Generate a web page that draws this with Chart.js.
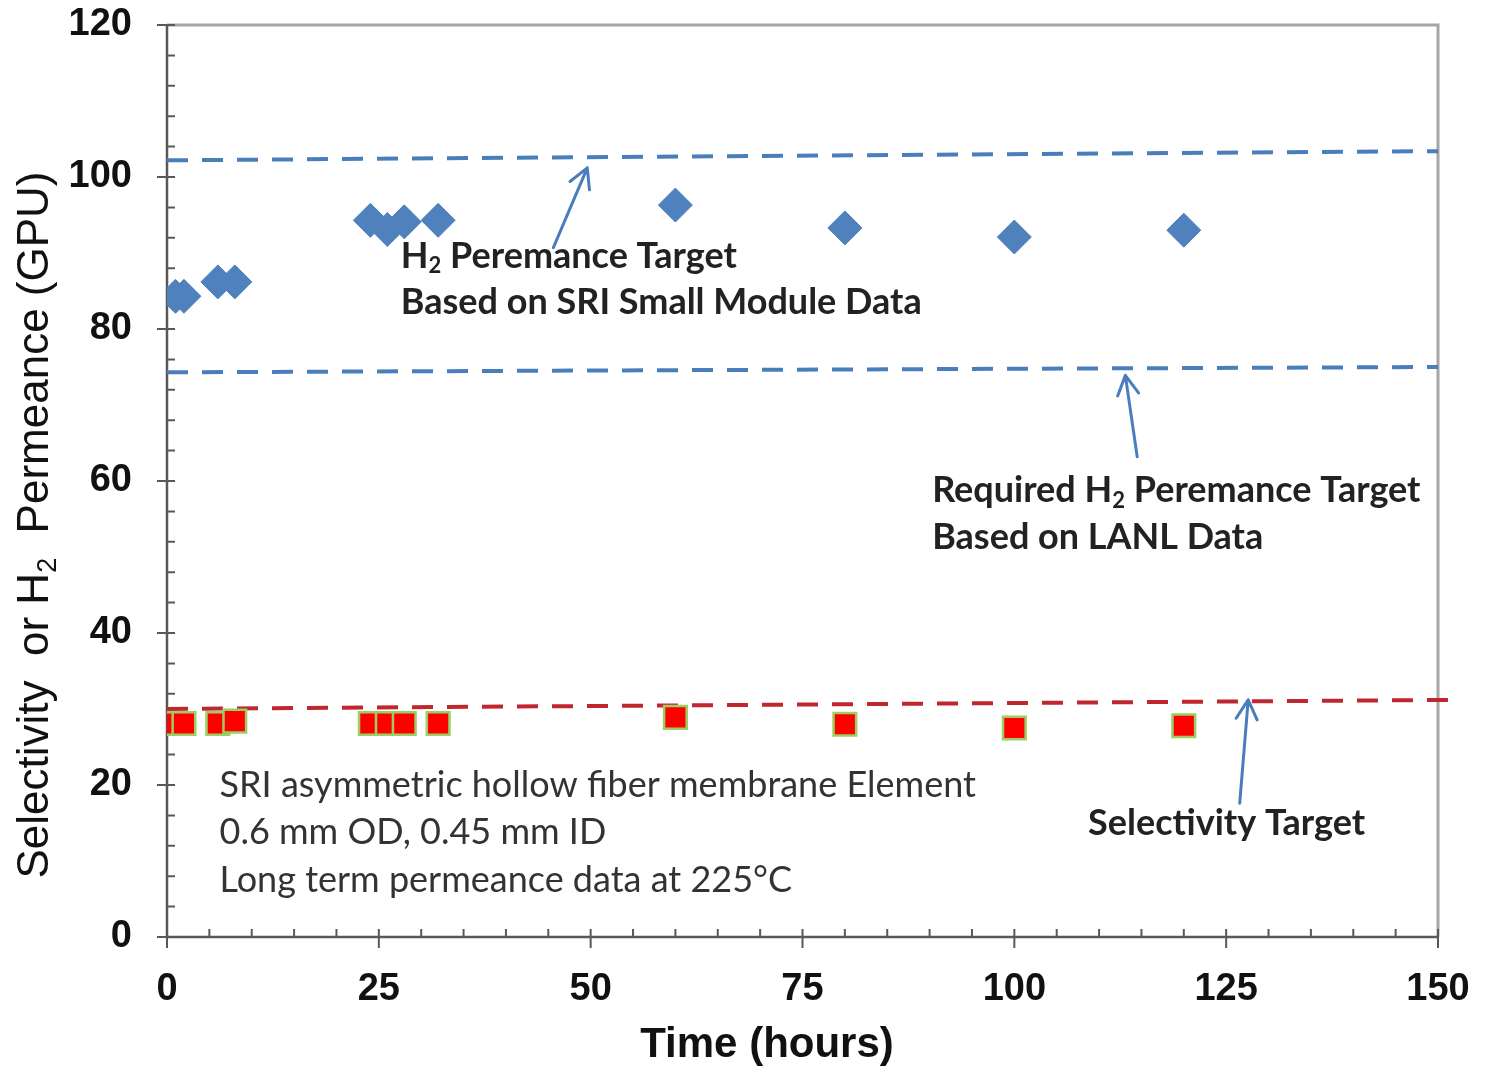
<!DOCTYPE html>
<html>
<head>
<meta charset="utf-8">
<script src="https://cdn.jsdelivr.net/npm/chart.js@4.4.1/dist/chart.umd.min.js"></script>
<style>
  body { margin: 0; background: #fff; }
  #wrap { width: 1486px; height: 1069px; }
</style>
</head>
<body>
<div id="wrap"><canvas id="chart" width="1486" height="1069"></canvas></div>
<script>
// Measured data
const timeH2 = [1, 2, 6, 8, 24, 26, 28, 32, 60, 80, 100, 120];
const permeance = [84.3, 84.3, 86.2, 86.2, 94.3, 93.1, 94.1, 94.3, 96.3, 93.3, 92.1, 93.0];
const timeSel = [0.7, 2, 6, 8, 24, 26, 28, 32, 60, 80, 100, 120];
const selectivity = [28.1, 28.1, 28.1, 28.4, 28.1, 28.1, 28.1, 28.1, 28.9, 28.0, 27.5, 27.8];

// target lines (start / end)
const targetX = [0, 150];
const sriTarget = [102.2, 103.4];
const lanlTarget = [74.3, 75.0];
const selTargetX = [0, 152];
const selTarget = [30.0, 31.2];

const xTicks = [0, 25, 50, 75, 100, 125, 150];
const yTicks = [0, 20, 40, 60, 80, 100, 120];

const pts = (xs, ys) => xs.map((x, i) => ({ x, y: ys[i] }));

// annotation texts & arrows (data coords)
const notes = [
  { x: 27.6, y: 89.6, parts: [['H', 0], ['2', 1], [' Peremance Target', 0]], bold: true },
  { x: 27.6, y: 83.5, parts: [['Based on SRI Small Module Data', 0]], bold: true },
  { x: 90.3, y: 58.7, parts: [['Required H', 0], ['2', 1], [' Peremance Target', 0]], bold: true },
  { x: 90.3, y: 52.6, parts: [['Based on LANL Data', 0]], bold: true },
  { x: 108.7, y: 15.0, parts: [['Selectivity Target', 0]], bold: true },
  { x: 6.2, y: 19.9, parts: [['SRI asymmetric hollow fiber membrane Element', 0]], bold: false },
  { x: 6.2, y: 13.7, parts: [['0.6 mm OD, 0.45 mm ID', 0]], bold: false },
  { x: 6.2, y: 7.5, parts: [['Long term permeance data at 225°C', 0]], bold: false }
];
const arrows = [
  [45.6, 90.7, 49.6, 101.2],
  [114.5, 63.2, 113.1, 73.9],
  [126.6, 17.6, 127.6, 31.2]
];

function drawRich(ctx, x, y, parts, size, weight) {
  let cx = x;
  parts.forEach(([txt, sub]) => {
    ctx.font = `${weight} ${sub ? Math.round(size * 0.62) : size}px ${ctx.fam}`;
    ctx.fillText(txt, cx, sub ? y + size * 0.28 : y);
    cx += ctx.measureText(txt).width;
  });
  return cx - x;
}

const framePlugin = {
  id: 'frame',
  beforeDatasetsDraw(chart) {
    const { ctx, chartArea: a, scales: { x, y } } = chart;
    ctx.save();
    // top/right frame
    ctx.strokeStyle = '#a6a6a6';
    ctx.lineWidth = 3;
    ctx.beginPath();
    ctx.moveTo(a.left, a.top); ctx.lineTo(a.right, a.top); ctx.lineTo(a.right, a.bottom);
    ctx.stroke();
    // axes
    ctx.strokeStyle = '#595959';
    ctx.lineWidth = 2.5;
    ctx.beginPath();
    ctx.moveTo(a.left, a.top); ctx.lineTo(a.left, a.bottom); ctx.lineTo(a.right, a.bottom);
    ctx.stroke();
    ctx.lineWidth = 2;
    ctx.beginPath();
    for (let v = 0; v <= 120; v += 4) {
      const py = y.getPixelForValue(v);
      if (v % 20 === 0) { ctx.moveTo(a.left - 10, py); ctx.lineTo(a.left + 8, py); }
      else { ctx.moveTo(a.left, py); ctx.lineTo(a.left + 8, py); }
    }
    for (let v = 0; v <= 150; v += 5) {
      const px = x.getPixelForValue(v);
      if (v % 25 === 0) { ctx.moveTo(px, a.bottom - 8); ctx.lineTo(px, a.bottom + 11); }
      else { ctx.moveTo(px, a.bottom - 8); ctx.lineTo(px, a.bottom); }
    }
    ctx.stroke();
    ctx.restore();
  },
  afterDraw(chart) {
    const { ctx, scales: { x, y } } = chart;
    ctx.save();
    // arrows
    ctx.strokeStyle = '#4a7ebb';
    ctx.lineWidth = 3;
    ctx.lineCap = 'round';
    arrows.forEach(([x0, y0, x1, y1]) => {
      const px0 = x.getPixelForValue(x0), py0 = y.getPixelForValue(y0);
      const px1 = x.getPixelForValue(x1), py1 = y.getPixelForValue(y1);
      const ang = Math.atan2(py1 - py0, px1 - px0);
      ctx.beginPath();
      ctx.moveTo(px0, py0); ctx.lineTo(px1, py1);
      [0.5, -0.5].forEach(d => {
        ctx.moveTo(px1, py1);
        ctx.lineTo(px1 - 22 * Math.cos(ang + d), py1 - 22 * Math.sin(ang + d));
      });
      ctx.stroke();
    });
    // notes
    ctx.fam = 'Lato, "Open Sans", sans-serif';
    ctx.textBaseline = 'middle';
    ctx.textAlign = 'left';
    notes.forEach(n => {
      ctx.fillStyle = n.bold ? '#222222' : '#333333';
      drawRich(ctx, x.getPixelForValue(n.x), y.getPixelForValue(n.y), n.parts, 36, n.bold ? 'bold' : 'normal');
    });
    // axis titles
    ctx.fam = '"Liberation Sans", Arial, sans-serif';
    ctx.fillStyle = '#111';
    ctx.textAlign = 'center';
    ctx.font = 'bold 42px "Liberation Sans", Arial, sans-serif';
    ctx.fillText('Time (hours)', 767, 1045);
    ctx.textAlign = 'left';
    const yParts = [['Selectivity  or H', 0], ['2', 1], ['  Permeance (GPU)', 0]];
    ctx.translate(36, 525);
    ctx.rotate(-Math.PI / 2);
    let w = 0;
    yParts.forEach(([t, s]) => {
      ctx.font = `normal ${s ? Math.round(44 * 0.62) : 44}px ${ctx.fam}`;
      w += ctx.measureText(t).width;
    });
    drawRich(ctx, -w / 2, 0, yParts, 44, 'normal');
    ctx.restore();
  }
};

const blue = '#4f81bd';

new Chart(document.getElementById('chart'), {
  type: 'scatter',
  data: {
    datasets: [
      {
        data: pts(targetX, sriTarget), showLine: true, pointRadius: 0,
        borderColor: '#4a7ebb', borderWidth: 4, borderDash: [21, 14], order: 3
      },
      {
        data: pts(targetX, lanlTarget), showLine: true, pointRadius: 0,
        borderColor: '#4a7ebb', borderWidth: 4, borderDash: [21, 14], order: 3
      },
      {
        data: pts(selTargetX, selTarget), showLine: true, pointRadius: 0,
        borderColor: '#c0262d', borderWidth: 4, borderDash: [21, 14], order: 3, clip: false
      },
      {
        data: pts(timeH2, permeance), pointStyle: 'rectRot', pointRadius: 17,
        backgroundColor: blue, borderColor: blue, borderWidth: 1, order: 1
      },
      {
        data: pts(timeSel, selectivity), pointStyle: 'rect', pointRadius: 16,
        backgroundColor: '#ff0000', borderColor: '#9bcf63', borderWidth: 2.5, order: 2
      }
    ]
  },
  options: {
    responsive: false,
    animation: false,
    events: [],
    layout: { padding: { top: 25, right: 48, left: 0, bottom: 0 } },
    plugins: { legend: { display: false }, tooltip: { enabled: false } },
    scales: {
      x: {
        type: 'linear', min: 0, max: 150,
        afterFit: s => { s.height = 132; s.paddingLeft = 0; s.paddingRight = 0; },
        afterBuildTicks: s => { s.ticks = xTicks.map(v => ({ value: v })); },
        grid: { display: false, drawTicks: false },
        border: { display: false },
        ticks: { padding: 30, color: '#111', font: { family: '"Liberation Sans", Arial', size: 38, weight: 'bold' } }
      },
      y: {
        type: 'linear', min: 0, max: 120,
        afterFit: s => { s.width = 167; s.paddingTop = 0; s.paddingBottom = 0; },
        afterBuildTicks: s => { s.ticks = yTicks.map(v => ({ value: v })); },
        grid: { display: false, drawTicks: false },
        border: { display: false },
        ticks: { padding: 35, color: '#111', font: { family: '"Liberation Sans", Arial', size: 38, weight: 'bold' } }
      }
    }
  },
  plugins: [framePlugin]
});
</script>
</body>
</html>
